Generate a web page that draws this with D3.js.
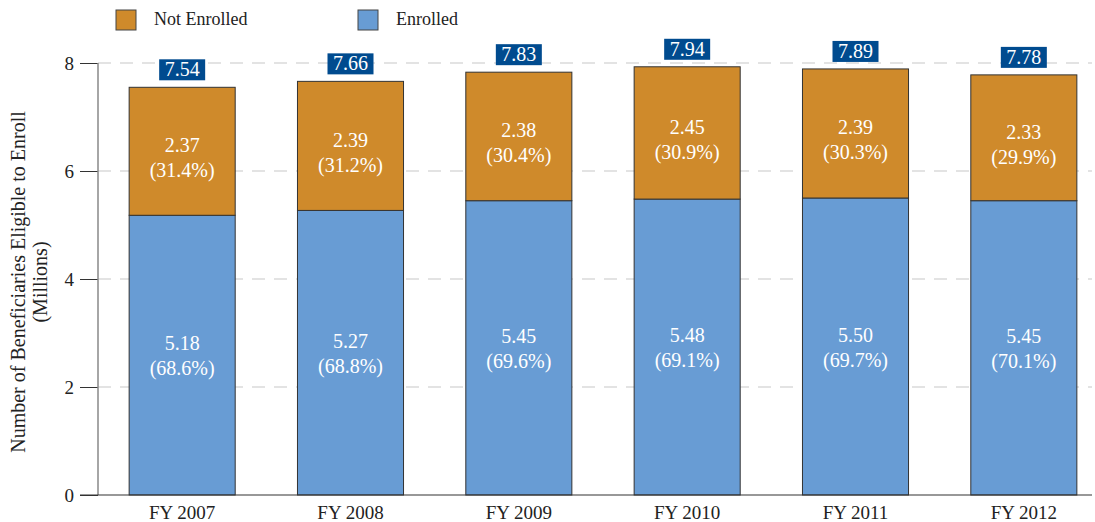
<!DOCTYPE html>
<html lang="en">
<head>
<meta charset="utf-8">
<title>Beneficiaries Eligible to Enroll</title>
<script src="https://d3js.org/d3.v7.min.js"></script>
<style>
  body { margin: 0; background: #fff; }
</style>
</head>
<body>
<div id="chart"></div>
<script>
// data
var years = ["FY 2007", "FY 2008", "FY 2009", "FY 2010", "FY 2011", "FY 2012"];
var enrolled = [5.18, 5.27, 5.45, 5.48, 5.50, 5.45];
var notEnrolled = [2.37, 2.39, 2.38, 2.45, 2.39, 2.33];
var totals = [7.54, 7.66, 7.83, 7.94, 7.89, 7.78];
var enrolledPct = ["68.6%", "68.8%", "69.6%", "69.1%", "69.7%", "70.1%"];
var notEnrolledPct = ["31.4%", "31.2%", "30.4%", "30.9%", "30.3%", "29.9%"];
var yTicks = [0, 2, 4, 6, 8];

(function() {
var W = 1095, H = 522;
var plotLeft = 98, plotRight = 1092, plotTop = 63, plotBottom = 495;
var serif = "'Liberation Serif', 'Times New Roman', 'DejaVu Serif', serif";

var svg = d3.select("#chart").append("svg")
  .attr("width", W).attr("height", H)
  .attr("font-family", serif);

var x = d3.scaleBand()
  .domain(years)
  .range([plotLeft, 1108])
  .paddingInner(0.37)
  .paddingOuter(0.185);

var y = d3.scaleLinear().domain([0, 8]).range([plotBottom, plotTop]);

// grid lines
svg.append("g").selectAll("line")
  .data(yTicks.filter(function(d) { return d > 0; }))
  .enter().append("line")
  .attr("x1", plotLeft).attr("x2", plotRight)
  .attr("y1", function(d) { return y(d); })
  .attr("y2", function(d) { return y(d); })
  .attr("stroke", "#c8c8c8")
  .attr("stroke-width", 1.2)
  .attr("stroke-dasharray", "13,9");

// y axis
var yAxis = d3.axisLeft(y).tickValues(yTicks).tickSize(18).tickPadding(6);
var gy = svg.append("g")
  .attr("transform", "translate(" + plotLeft + ",0)")
  .call(yAxis)
  .attr("font-family", serif)
  .attr("font-size", 19);
gy.select(".domain").remove();
gy.selectAll(".tick line").attr("stroke", "#333");
gy.selectAll(".tick text").attr("fill", "#222");

svg.append("line")
  .attr("x1", plotLeft).attr("x2", plotLeft)
  .attr("y1", plotTop).attr("y2", plotBottom)
  .attr("stroke", "#888").attr("stroke-width", 1.5);

// stacked bars
var stack = d3.stack().keys(["enrolled", "notEnrolled"]);
var rows = years.map(function(yr, i) {
  return { year: yr, enrolled: enrolled[i], notEnrolled: notEnrolled[i], i: i };
});
var series = stack(rows);
var colors = { enrolled: "#689cd4", notEnrolled: "#cf8a2b" };
var pcts = { enrolled: enrolledPct, notEnrolled: notEnrolledPct };
var labelShift = { enrolled: 0, notEnrolled: 6 };

series.forEach(function(s) {
  var g = svg.append("g");
  g.selectAll("rect")
    .data(s)
    .enter().append("rect")
    .attr("x", function(d) { return x(d.data.year); })
    .attr("width", x.bandwidth())
    .attr("y", function(d) { return y(d[1]); })
    .attr("height", function(d) { return y(d[0]) - y(d[1]); })
    .attr("fill", colors[s.key])
    .attr("stroke", "#333")
    .attr("stroke-width", 1);

  var t = g.selectAll("text")
    .data(s)
    .enter().append("text")
    .attr("text-anchor", "middle")
    .attr("fill", "#fff")
    .attr("font-size", 20)
    .attr("transform", function(d) {
      var cx = x(d.data.year) + x.bandwidth() / 2;
      var cy = (y(d[0]) + y(d[1])) / 2 + labelShift[s.key];
      return "translate(" + cx + "," + cy + ")";
    });
  t.append("tspan").attr("x", 0).attr("y", -5)
    .text(function(d) { return d3.format(".2f")(d.data[s.key]); });
  t.append("tspan").attr("x", 0).attr("y", 20)
    .text(function(d) { return "(" + pcts[s.key][d.data.i] + ")"; });
});

// baseline
svg.append("line")
  .attr("x1", 80).attr("x2", plotRight)
  .attr("y1", plotBottom).attr("y2", plotBottom)
  .attr("stroke", "#333").attr("stroke-width", 1.2);

// total labels
var tot = svg.append("g").selectAll("g")
  .data(totals)
  .enter().append("g")
  .attr("transform", function(d, i) {
    var cx = x(years[i]) + x.bandwidth() / 2;
    var topY = y(enrolled[i] + notEnrolled[i]);
    return "translate(" + cx + "," + (topY - 7) + ")";
  });
tot.append("rect")
  .attr("x", -23).attr("y", -21)
  .attr("width", 46).attr("height", 21)
  .attr("fill", "#004b8f");
tot.append("text")
  .attr("text-anchor", "middle")
  .attr("y", -4)
  .attr("fill", "#fff")
  .attr("font-size", 20)
  .text(function(d) { return d3.format(".2f")(d); });

// x labels
svg.append("g").selectAll("text")
  .data(years)
  .enter().append("text")
  .attr("x", function(d) { return x(d) + x.bandwidth() / 2; })
  .attr("y", 519)
  .attr("text-anchor", "middle")
  .attr("font-size", 19)
  .attr("fill", "#222")
  .text(function(d) { return d; });

// y title
var yt = svg.append("text")
  .attr("transform", "translate(25,282) rotate(-90)")
  .attr("text-anchor", "middle")
  .attr("font-size", 20)
  .attr("fill", "#222");
yt.append("tspan").attr("x", 0).attr("y", 0).text("Number of Beneficiaries Eligible to Enroll");
yt.append("tspan").attr("x", 0).attr("y", 22).text("(Millions)");

// legend
var legendItems = [
  { label: "Not Enrolled", color: colors.notEnrolled, x: 116 },
  { label: "Enrolled", color: colors.enrolled, x: 358 }
];
var lg = svg.append("g").selectAll("g")
  .data(legendItems)
  .enter().append("g")
  .attr("transform", function(d) { return "translate(" + d.x + ",10)"; });
lg.append("rect")
  .attr("width", 20).attr("height", 20)
  .attr("fill", function(d) { return d.color; })
  .attr("stroke", "#444");
lg.append("text")
  .attr("x", 38).attr("y", 15)
  .attr("font-size", 18)
  .attr("fill", "#222")
  .text(function(d) { return d.label; });
})();
</script>
</body>
</html>
